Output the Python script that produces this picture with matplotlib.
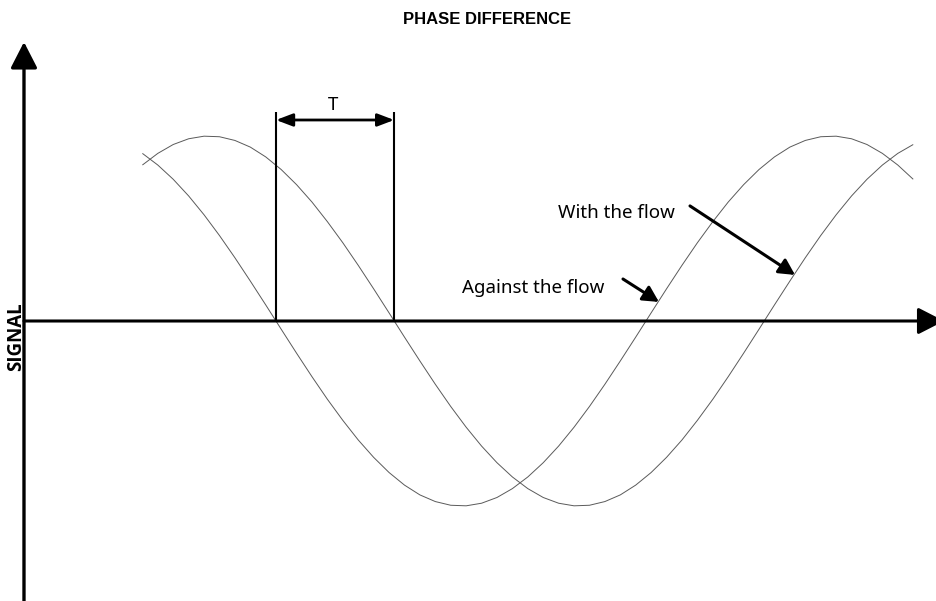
import matplotlib
matplotlib.use("Agg")
import matplotlib.pyplot as plt

# ---- data (x = phase in degrees, y = signal, amplitude 1) ----
phase_deg = [25, 32.5, 40, 47.5, 55, 62.5, 70, 77.5, 85, 92.5,
             100, 107.5, 115, 122.5, 130, 137.5, 145, 152.5, 160, 167.5,
             175, 182.5, 190, 197.5, 205, 212.5, 220, 227.5, 235, 242.5,
             250, 257.5, 265, 272.5, 280, 287.5, 295, 302.5, 310, 317.5,
             325, 332.5, 340, 347.5, 355, 362.5, 370, 377.5, 385, 392.5, 400]

against_flow = [0.906, 0.843, 0.766, 0.676, 0.574, 0.462, 0.342, 0.216, 0.087, -0.044,
                -0.174, -0.301, -0.423, -0.537, -0.643, -0.737, -0.819, -0.887, -0.940, -0.976,
                -0.996, -0.999, -0.985, -0.954, -0.906, -0.843, -0.766, -0.676, -0.574, -0.462,
                -0.342, -0.216, -0.087, 0.044, 0.174, 0.301, 0.423, 0.537, 0.643, 0.737,
                0.819, 0.887, 0.940, 0.976, 0.996, 0.999, 0.985, 0.954, 0.906, 0.843, 0.766]

with_flow = [0.843, 0.906, 0.954, 0.985, 0.999, 0.996, 0.976, 0.940, 0.887, 0.819,
             0.737, 0.643, 0.537, 0.423, 0.301, 0.174, 0.044, -0.087, -0.216, -0.342,
             -0.462, -0.574, -0.676, -0.766, -0.843, -0.906, -0.954, -0.985, -0.999, -0.996,
             -0.976, -0.940, -0.887, -0.819, -0.737, -0.643, -0.537, -0.423, -0.301, -0.174,
             -0.044, 0.087, 0.216, 0.342, 0.462, 0.574, 0.676, 0.766, 0.843, 0.906, 0.954]

t_marks = [90, 147.5]          # zero crossings bounding the time shift T

title_text = "PHASE DIFFERENCE"
ylabel_text = "SIGNAL"
label_with = "With the flow"
label_against = "Against the flow"
label_T = "T"

# ---- figure ----
fig = plt.figure(figsize=(9.36, 6.01), dpi=100)
ax = fig.add_axes([0, 0, 1, 1])
ax.set_xlim(-44.27, 411.08)
ax.set_ylim(-1.5135, 1.7351)
ax.axis("off")

curve_color = "#5a5a5a"
ax.plot(phase_deg, against_flow, color=curve_color, lw=0.7, solid_capstyle="butt")
ax.plot(phase_deg, with_flow, color=curve_color, lw=0.7, solid_capstyle="butt")

# axes arrows
x_axis_pos = -32.6
ax.annotate("", xy=(x_axis_pos, 1.508), xytext=(x_axis_pos, -1.6),
            arrowprops=dict(arrowstyle="-|>,head_length=1.6,head_width=0.82",
                            mutation_scale=10, lw=2.4, color="black",
                            shrinkA=0, shrinkB=0),
            annotation_clip=False)
ax.annotate("", xy=(415.0, 0), xytext=(x_axis_pos, 0),
            arrowprops=dict(arrowstyle="-|>,head_length=1.6,head_width=0.82",
                            mutation_scale=10, lw=2.2, color="black",
                            shrinkA=0, shrinkB=0),
            annotation_clip=False)

# T marker
for xm in t_marks:
    ax.plot([xm, xm], [0, 1.13], color="black", lw=1.5, solid_capstyle="butt")
ax.annotate("", xy=(t_marks[1], 1.0865), xytext=(t_marks[0], 1.0865),
            arrowprops=dict(arrowstyle="<|-|>,head_length=1.0,head_width=0.38",
                            mutation_scale=10, lw=2.0, color="black",
                            shrinkA=0, shrinkB=0))
ax.text((t_marks[0] + t_marks[1]) / 2 - 1, 1.141, label_T, ha="center", va="baseline",
        fontsize=13.5, family="Noto Sans", color="black")

# labels with arrows
ax.text(227.2, 0.557, label_with, ha="left", va="baseline",
        fontsize=13.5, family="Noto Sans", color="black")
ax.annotate("", xy=(342.5, 0.249), xytext=(291.4, 0.622),
            arrowprops=dict(arrowstyle="-|>,head_length=0.95,head_width=0.5",
                            mutation_scale=10, lw=2.2, color="black",
                            shrinkA=0, shrinkB=0))
ax.text(180.5, 0.151, label_against, ha="left", va="baseline",
        fontsize=13.5, family="Noto Sans", color="black")
ax.annotate("", xy=(276.3, 0.103), xytext=(258.8, 0.227),
            arrowprops=dict(arrowstyle="-|>,head_length=0.95,head_width=0.5",
                            mutation_scale=10, lw=2.2, color="black",
                            shrinkA=0, shrinkB=0))

# title and y label
ax.text(192.6, 1.605, title_text, ha="center", va="baseline",
        fontsize=12, fontweight="bold", family="Liberation Sans", color="black")
ax.text(-36.2, -0.084, ylabel_text, ha="center", va="center", rotation=90,
        fontsize=13.5, fontweight="bold", family="Open Sans", color="black")

fig.savefig("out.png", dpi=100)
